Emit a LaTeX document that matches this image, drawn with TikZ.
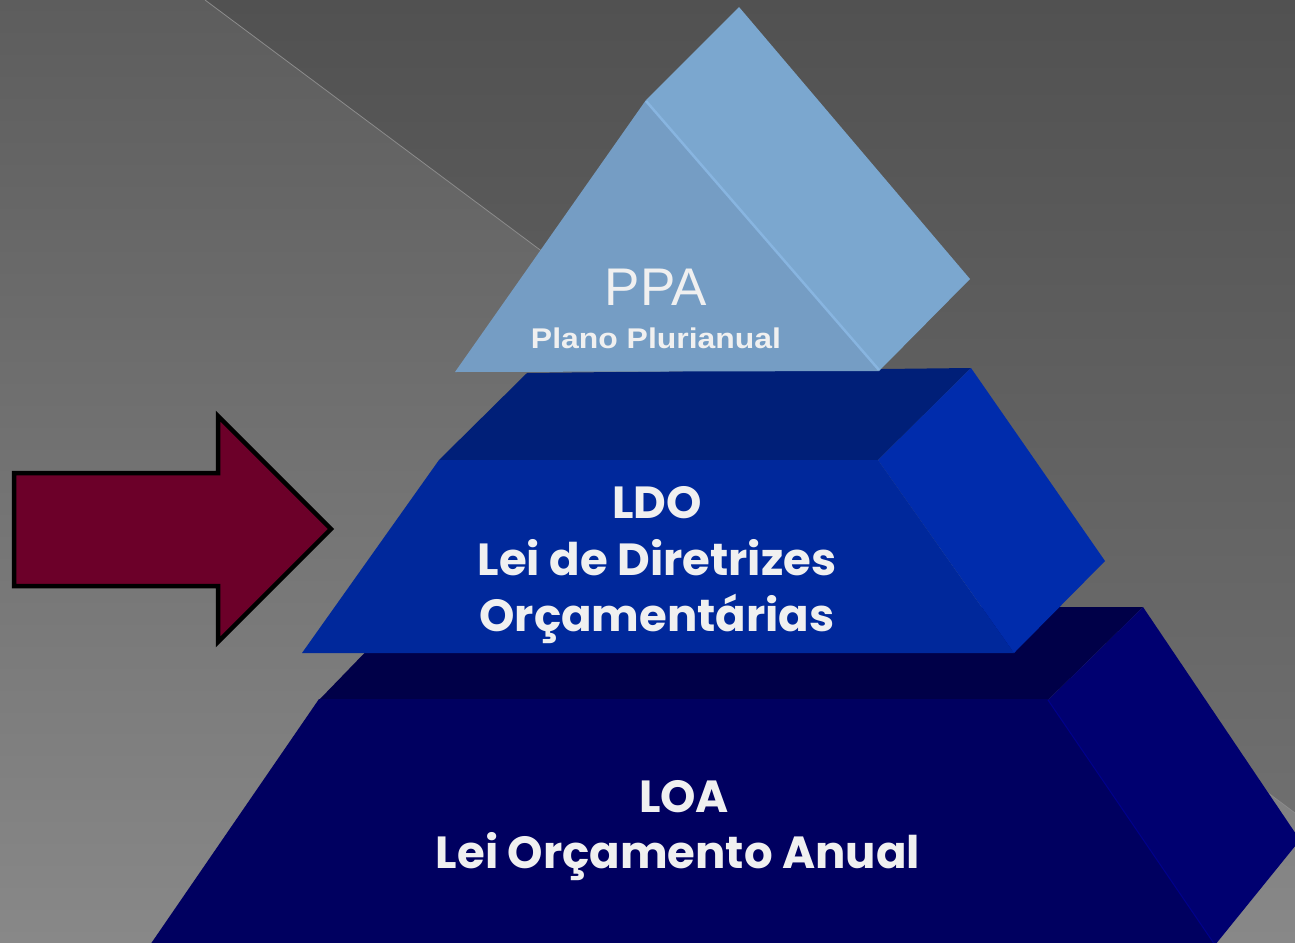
\documentclass[tikz,border=0pt]{standalone}
\usepackage{fontspec}
\setmainfont{Liberation Sans}
\newfontfamily\gothic{Poppins}
\definecolor{bgtop}{RGB}{93,93,93}
\definecolor{bgbot}{RGB}{136,136,136}
\definecolor{dktop}{RGB}{81,81,81}
\definecolor{dkbot}{RGB}{111,111,111}
\definecolor{bgline}{RGB}{140,140,140}
\definecolor{ppafront}{RGB}{117,157,196}
\definecolor{ppaside}{RGB}{123,167,207}
\definecolor{ppaedge}{RGB}{136,181,224}
\definecolor{ldotop}{RGB}{0,31,120}
\definecolor{ldofront}{RGB}{0,40,155}
\definecolor{ldoside}{RGB}{0,44,172}
\definecolor{loatop}{RGB}{0,0,72}
\definecolor{loafront}{RGB}{0,0,96}
\definecolor{loaside}{RGB}{0,0,112}
\definecolor{loaedge}{RGB}{0,0,140}
\definecolor{arrowfill}{RGB}{108,0,41}
\definecolor{txt}{RGB}{240,240,240}
\tikzset{
  gtext/.style={text=txt, inner sep=0pt, anchor=base, font=\gothic\bfseries\fontsize{45}{50}\selectfont},
}
\begin{document}
\begin{tikzpicture}[x=1pt,y=-1pt]
\useasboundingbox (0,0) rectangle (1295,942);
\begin{scope}
\clip (0,0) rectangle (1295,942);
% background
\shade[top color=bgtop, bottom color=bgbot] (0,0) rectangle (1295,942);
\shade[top color=dktop, bottom color=dkbot] (205,0) -- (1295,0) -- (1295,813) -- cycle;
\coordinate (l1) at (205,0);
\coordinate (l2) at (1295,813);
\draw[bgline, line width=0.8pt] (l1) -- (l2);
% LOA block
\fill[loatop] (409,607) -- (1143,607) -- (1048,700) -- (319,700) -- cycle;
\fill[loafront] (319,699) -- (1048,699) -- (1215,945) -- (150,945) -- cycle;
\fill[loaside] (1048,700) -- (1143,607) -- (1300,840) -- (1215,945) -- cycle;
\draw[loaedge, line width=1pt] (1048,700) -- (1215,945);
% LDO block
\fill[ldotop] (527,373) -- (971,368) -- (878,460) -- (439,460) -- cycle;
\fill[ldofront] (439,460) -- (878,460) -- (1014,653) -- (302,653) -- cycle;
\fill[ldoside] (878,460) -- (971,368) -- (1105,561) -- (1014,653) -- cycle;
% PPA block
\fill[ppaside] (646,100) -- (739,7) -- (970,279) -- (879,371) -- cycle;
\fill[ppafront] (455,372) -- (646,100) -- (879,371) -- cycle;
\draw[ppaedge, line width=2.5pt] (646,101) -- (879,370);
% arrow
\draw[black, line width=4.5pt, fill=arrowfill, line join=miter]
  (14,473) -- (218,473) -- (218,416) -- (331,529) -- (218,642) -- (218,586) -- (14,586) -- cycle;
\end{scope}
% texts
\node[text=txt, inner sep=0pt, anchor=base, font=\fontsize{53}{60}\selectfont] (ppa) at (656,305) {PPA};
\node[text=txt, inner sep=0pt, anchor=base, font=\bfseries\fontsize{28.5}{32}\selectfont] (ppa2) at (656,348) {\scalebox{1.12}[1]{Plano Plurianual}};
\node[gtext] (ldo1) at (657,518) {LDO};
\node[gtext] (ldo2) at (657,575) {Lei de Diretrizes};
\node[gtext] (ldo3) at (657,631) {Orçamentárias};
\node[gtext] (loa1) at (684,812) {LOA};
\node[gtext] (loa2) at (678,868) {Lei Orçamento Anual};
\end{tikzpicture}
\end{document}
